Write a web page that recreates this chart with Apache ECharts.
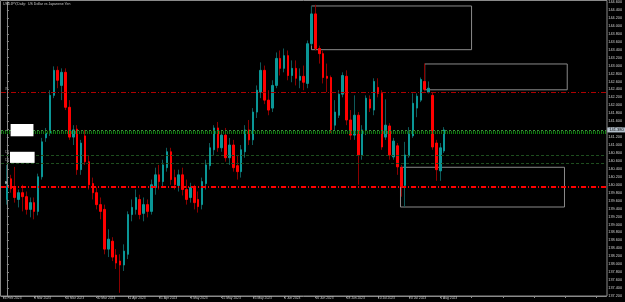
<!DOCTYPE html>
<html><head><meta charset="utf-8">
<script src="https://cdn.jsdelivr.net/npm/echarts@6/dist/echarts.min.js"></script>
<style>html,body{margin:0;padding:0;background:#000;}#c{width:625px;height:302px;}</style>
</head><body><div id="c"></div>
<script>
const titleText = 'USDJPY,Daily:  US Dollar vs Japanese Yen';
const tickLabels = ['24 Feb 2023','8 Mar 2023','20 Mar 2023','30 Mar 2023','11 Apr 2023','21 Apr 2023','3 May 2023','15 May 2023','25 May 2023','6 Jun 2023','16 Jun 2023','28 Jun 2023','10 Jul 2023','20 Jul 2023','1 Aug 2023'];
const opens = [139.63,140.15,139.93,139.63,139.80,139.70,139.38,139.55,139.33,140.20,141.18,141.30,142.25,142.88,142.50,142.83,141.95,141.20,141.40,140.38,141.23,140.58,140.03,139.80,139.50,139.38,138.38,138.58,138.23,138.08,137.98,138.25,139.25,139.38,139.63,139.28,139.50,139.33,139.93,140.25,140.08,140.43,140.83,140.18,139.98,140.25,139.88,139.68,139.93,139.63,139.50,140.03,140.48,140.88,141.43,140.93,141.25,140.68,141.00,140.48,140.33,140.83,141.38,141.13,141.83,142.33,142.88,142.13,141.93,142.50,143.18,142.93,143.25,142.75,142.93,142.63,142.73,142.55,143.55,144.30,143.43,143.30,142.73,142.70,141.50,141.75,142.28,142.73,141.63,141.25,141.75,140.75,141.38,142.15,141.88,142.45,142.30,141.20,141.48,140.70,140.98,140.43,139.98,140.73,141.23,141.93,142.13,142.60,142.33,142.25,141.05,140.35,140.85];
const closes = [139.93,139.90,139.68,139.80,139.70,139.38,139.55,139.33,140.20,141.08,141.30,142.25,142.88,142.63,142.83,141.95,141.20,141.38,140.38,141.05,140.58,140.00,139.80,139.50,139.33,138.38,138.63,138.18,138.03,137.98,138.33,139.25,139.43,139.68,139.25,139.50,139.33,140.00,140.25,140.08,140.50,140.83,140.13,140.00,140.25,139.88,139.63,139.93,139.55,139.45,140.08,140.50,140.93,141.43,140.93,141.25,140.68,141.00,140.43,140.33,140.88,141.38,141.13,141.83,142.38,142.88,142.13,141.88,142.50,143.18,142.93,143.25,142.75,142.93,142.68,142.73,142.58,143.55,144.30,143.43,143.30,142.70,142.68,141.38,141.83,142.28,142.75,141.63,141.25,141.75,140.75,141.38,142.18,141.93,142.60,142.30,140.95,141.50,140.75,141.10,140.45,139.95,140.75,141.28,142.05,142.23,142.65,142.40,142.43,140.95,140.38,140.93,141.38];
const lows = [139.50,139.80,139.55,139.43,139.33,139.25,139.18,139.13,139.23,140.13,141.08,141.23,142.18,142.43,142.13,141.88,141.13,141.00,140.25,140.25,140.50,139.88,139.63,139.38,139.13,138.25,138.18,138.08,137.88,137.28,137.83,138.13,139.08,139.25,139.13,139.08,139.18,139.25,139.75,139.88,139.93,140.33,140.00,139.88,139.83,139.73,139.50,139.55,139.38,139.30,139.38,139.88,140.38,140.75,140.83,140.83,140.58,140.50,140.33,140.13,140.18,140.68,141.00,141.00,141.68,142.18,142.03,141.75,141.83,142.43,142.75,142.83,142.63,142.58,142.50,142.43,142.38,142.43,143.50,143.38,143.05,142.55,142.33,141.30,141.38,141.68,142.20,141.50,141.13,141.13,140.00,140.63,141.25,141.83,141.75,142.20,140.88,141.13,140.63,140.63,140.25,139.70,139.45,140.68,141.18,141.70,142.08,142.35,142.30,140.88,140.10,140.10,140.80];
const highs = [140.50,140.25,140.45,139.88,140.00,139.83,139.68,139.68,140.28,141.18,141.43,142.38,142.98,142.98,142.93,142.93,142.13,141.50,141.50,141.13,141.38,140.75,140.18,139.93,139.68,139.50,138.88,138.68,138.38,138.25,138.50,139.33,139.63,139.88,139.75,139.68,139.63,140.13,140.43,140.50,140.63,140.93,140.93,140.38,140.38,140.43,140.13,140.05,140.00,139.83,140.18,140.63,141.05,141.50,141.58,141.38,141.43,141.18,141.13,140.75,141.00,141.50,141.63,141.93,142.50,143.08,143.00,142.38,142.63,143.33,143.38,143.43,143.38,143.13,143.13,142.93,143.00,143.63,144.50,144.53,143.50,143.38,143.05,142.75,142.13,142.38,142.83,142.88,141.88,142.25,141.83,141.50,142.25,142.25,142.68,142.68,142.38,142.15,141.55,141.18,141.05,140.50,141.08,141.45,142.30,142.30,142.70,143.05,142.60,142.33,141.13,141.05,141.45];
// horizontal levels and their tags
const levelPrices = [142.33, 141.31, 140.74, 140.54, 139.955];
const levelTags = ['W', '', 'D1', 'D1', 'E'];
// boxes: [barFrom, priceTop, barTo, priceBottom]
const boxes = [[78,144.50,119,143.40],[107,143.04,143.5,142.39],[100.8,140.44,142.8,139.44]];
const whiteBoxes = [[0.95,141.53,6.8,141.22],[0.8,140.83,7.1,140.55]];

const N_CAT = 155; // one leading empty slot + bars + blank right margin
const cats = [];
for (let k = 0; k < N_CAT; k++) cats.push(String(k - 1));
const wickData = ['-'];
const bodyData = ['-'];
for (let i = 0; i < opens.length; i++) {
  wickData.push([opens[i], closes[i], lows[i], highs[i]]);
  bodyData.push([opens[i], closes[i], Math.min(opens[i], closes[i]), Math.max(opens[i], closes[i])]);
}
const lastClose = closes[closes.length - 1];

const lineStyles = [
  {color:'#b00000', type:[5,2,1,2], width:1},
  {color:'#0f7a0f', type:[1,1], width:3},
  {color:'#1f4f1f', type:[3,2], width:1},
  {color:'#1f4f1f', type:[3,2], width:1},
  {color:'#ff0000', type:[5,2,1,2], width:2}
];
const mlData = levelPrices.map((p, i) => ({
  yAxis: p,
  lineStyle: lineStyles[i],
  label: {show: !!levelTags[i], position: 'insideStartTop', formatter: levelTags[i], color: i === 4 ? '#fff' : '#9a9a9a', fontSize: 3.5, distance: [4, 1]}
}));
mlData.push({
  yAxis: lastClose,
  lineStyle: {color:'#3f8f3f', type:[2,2], width:1},
  label: {show:true, position:'end', formatter: lastClose.toFixed(3), backgroundColor:'#b4c0cc', color:'#000', fontSize:4, padding:[1,2,0,2], distance:1}
});

const areaData = boxes.map(b => [
  {coord:[b[0], b[1]], itemStyle:{color:'rgba(0,0,0,0)', borderColor:'#8a8a8a', borderWidth:1}},
  {coord:[b[2], b[3]]}
]);

const chart = echarts.init(document.getElementById('c'), null, {renderer:'canvas'});
chart.setOption({
  animation: false,
  backgroundColor: '#000',
  title: {text: titleText, left: 3, top: 2, padding: 0, textStyle: {color:'#c8c8c8', fontSize: 3.5, fontWeight:'normal', fontFamily:'Liberation Sans'}},
  grid: {left: -1.6, right: 18, top: 1, bottom: 6, containLabel: false},
  xAxis: [{
    type: 'category', data: cats, boundaryGap: true,
    axisLine: {show: true, lineStyle: {color:'#8a8a8a'}},
    axisTick: {show: true, alignWithLabel: true, interval: (idx) => idx % 8 === 0, length: 2, lineStyle:{color:'#8a8a8a'}},
    axisLabel: {show: true, interval: (idx) => idx % 8 === 0, formatter: (v, idx) => tickLabels[idx / 8] || '', align:'left', color:'#c8c8c8', fontSize:3.3, margin:1, fontFamily:'Liberation Sans'},
    splitLine: {show:false}
  }, {
    type: 'value', min: -1.5, max: N_CAT - 1.5, show: false
  }],
  yAxis: {
    type: 'value', position: 'right', min: 137.2, max: 144.6, interval: 0.2, scale: true,
    axisLine: {show: true, lineStyle: {color:'#8a8a8a'}},
    axisTick: {show: true, length: 2, lineStyle:{color:'#8a8a8a'}},
    axisLabel: {show: true, formatter: v => v.toFixed(3), color:'#d0d0d0', fontSize:3.8, margin:2, showMinLabel:true, showMaxLabel:true, fontFamily:'Liberation Sans'},
    splitLine: {show:false}
  },
  series: [{
    type: 'candlestick', name: 'wicks', data: wickData, barWidth: 1, z: 2,
    itemStyle: {color:'#0f5a5a', color0:'#8b0000', borderColor:'#0f5a5a', borderColor0:'#8b0000', borderWidth:1}
  }, {
    type: 'candlestick', name: 'bodies', data: bodyData, barWidth: 2, z: 3,
    itemStyle: {color:'#0a9696', color0:'#ff0000', borderColor:'#0a9696', borderColor0:'#ff0000', borderWidth:1}
  }, {
    type: 'line', name: 'annotations', xAxisIndex: 1, yAxisIndex: 0, data: [], z: 1,
    markLine: {silent:true, symbol:['none','none'], data: mlData},
    markArea: {silent:true, data: areaData}
  }]
});

// frame and white label boxes, positioned through the chart's own scales
const toPx = (x, y) => chart.convertToPixel({xAxisIndex: 1, yAxisIndex: 0}, [x, y]);
const gfx = [{type:'rect', shape:{x:0.5, y:0.5, width:606.5, height:295.5}, style:{fill:'none', stroke:'#8a8a8a', lineWidth:1}, silent:true, z:-1}];
whiteBoxes.forEach(b => {
  const p1 = toPx(b[0], b[1]), p2 = toPx(b[2], b[3]);
  gfx.push({type:'rect', shape:{x:p1[0], y:p1[1], width:p2[0]-p1[0], height:p2[1]-p1[1]}, style:{fill:'#ffffff'}, silent:true, z:100, zlevel:2});
});
chart.setOption({graphic: gfx});
</script></body></html>
